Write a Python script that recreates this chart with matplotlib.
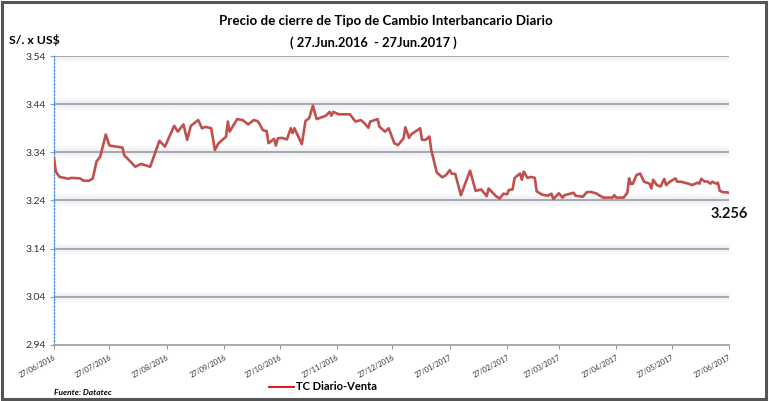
import pandas as pd
import matplotlib.pyplot as plt
from matplotlib.lines import Line2D
from matplotlib.patches import Rectangle

# daily closing rate (days after 27 Jun 2016, S/. per US$)
start_date = "2016-06-27"
day_offsets = [0, 1, 3, 8, 9, 14, 16, 19, 21, 23, 25, 28, 30, 37, 38, 44, 47, 52, 57, 60,
               65, 67, 70, 72, 74, 78, 80, 82, 85, 87, 89, 92, 93, 94, 95, 99, 102, 105, 108, 110,
               111, 113, 115, 116, 119, 120, 121, 123, 126, 128, 129, 130, 134, 136, 138, 140, 142, 147, 149, 150,
               151, 154, 160, 163, 166, 168, 170, 171, 175, 176, 179, 181, 184, 186, 189, 190, 192, 193, 198, 199,
               201, 203, 204, 207, 210, 212, 214, 215, 217, 220, 225, 228, 231, 234, 235, 239, 241, 243, 245, 246,
               248, 249, 250, 252, 253, 254, 256, 258, 260, 261, 264, 267, 269, 270, 273, 275, 276, 281, 282, 286,
               288, 290, 293, 297, 302, 303, 304, 308, 310, 311, 312, 313, 315, 317, 319, 322, 323, 324, 326, 328,
               330, 331, 333, 336, 337, 339, 343, 345, 348, 349, 350, 352, 353, 355, 356, 358, 359, 360, 362, 364,
               365]
rates = [3.328, 3.300, 3.289, 3.285, 3.287, 3.286, 3.281, 3.281, 3.286, 3.321, 3.331, 3.377, 3.354, 3.350, 3.334, 3.310, 3.316, 3.310, 3.364, 3.352,
         3.395, 3.383, 3.398, 3.366, 3.395, 3.407, 3.390, 3.393, 3.390, 3.345, 3.359, 3.369, 3.372, 3.404, 3.383, 3.409, 3.407, 3.398, 3.407, 3.405,
         3.400, 3.386, 3.384, 3.359, 3.368, 3.354, 3.369, 3.370, 3.367, 3.390, 3.380, 3.390, 3.357, 3.405, 3.411, 3.437, 3.409, 3.416, 3.424, 3.416,
         3.424, 3.419, 3.419, 3.404, 3.407, 3.400, 3.391, 3.404, 3.409, 3.393, 3.383, 3.390, 3.359, 3.355, 3.369, 3.392, 3.370, 3.377, 3.390, 3.366,
         3.366, 3.373, 3.345, 3.298, 3.288, 3.293, 3.303, 3.296, 3.295, 3.251, 3.302, 3.260, 3.263, 3.249, 3.265, 3.249, 3.244, 3.254, 3.253, 3.262,
         3.263, 3.286, 3.290, 3.296, 3.283, 3.300, 3.287, 3.289, 3.287, 3.259, 3.252, 3.250, 3.254, 3.243, 3.255, 3.246, 3.251, 3.256, 3.250, 3.248,
         3.257, 3.258, 3.255, 3.246, 3.246, 3.251, 3.246, 3.246, 3.256, 3.286, 3.274, 3.275, 3.293, 3.296, 3.279, 3.275, 3.265, 3.283, 3.272, 3.269,
         3.285, 3.272, 3.279, 3.286, 3.279, 3.279, 3.275, 3.272, 3.277, 3.275, 3.285, 3.279, 3.280, 3.275, 3.279, 3.275, 3.277, 3.260, 3.257, 3.257,
         3.256]
y_ticks = [2.94, 3.04, 3.14, 3.24, 3.34, 3.44, 3.54]
month_ticks = ["2016-06-27", "2016-07-27", "2016-08-27", "2016-09-27", "2016-10-27", "2016-11-27",
               "2016-12-27", "2017-01-27", "2017-02-27", "2017-03-27", "2017-04-27", "2017-05-27",
               "2017-06-27"]
last_label = "3.256"

plt.rcParams['font.family'] = ['Lato', 'DejaVu Sans']

dates = pd.Timestamp(start_date) + pd.to_timedelta(day_offsets, unit="D")
tick_dates = pd.to_datetime(month_ticks)

fig = plt.figure(figsize=(7.69, 4.01), dpi=100)
ax = fig.add_axes([0.0702, 0.1397, 0.8778, 0.7206])

# grid lines with a soft glow like the original
for yv in y_ticks[1:]:
    ax.axhline(yv, color="#f6f7fb", lw=8, zorder=1)
    ax.axhline(yv, color="#eef0f6", lw=4, zorder=1)
    ax.axhline(yv, color="#a3a3a3", lw=1.3, zorder=2)

ax.plot(dates, rates, color="#c0504d", lw=1.9, zorder=3)

ax.set_ylim(2.94, 3.54)
ax.set_xlim(tick_dates[0], tick_dates[-1])
ax.set_yticks(y_ticks)
ax.set_yticklabels([f"{v:.2f}" for v in y_ticks], fontsize=7.5, color="#333333")
ax.set_xticks(tick_dates)
ax.set_xticklabels([d.strftime("%d/%m/%Y") for d in tick_dates], fontsize=5.2,
                   rotation=28, ha="right", rotation_mode="anchor", color="#333333")
ax.tick_params(axis="x", length=3, color="#999999", pad=3)
ax.tick_params(axis="y", length=3, color="#6fa8dc", pad=3)

for s in ["top", "right"]:
    ax.spines[s].set_visible(False)
ax.spines["bottom"].set_color("#a3a3a3")
ax.spines["bottom"].set_linewidth(1.3)
ax.spines["left"].set_color("#4a90e2")
ax.spines["left"].set_linestyle((0, (1, 1.5)))
ax.spines["left"].set_linewidth(1)

# label for the last value
ax.text(tick_dates[-1], 3.212, last_label, fontsize=10.5, fontweight="bold",
        ha="center", va="center", color="#111111")

fig.text(0.502, 0.948, "Precio de cierre de Tipo de Cambio Interbancario Diario",
         ha="center", va="center", fontsize=9.6, fontweight="bold")
fig.text(0.485, 0.893, "( 27.Jun.2016  - 27Jun.2017 )",
         ha="center", va="center", fontsize=9.3, fontweight="bold")
fig.text(0.012, 0.9, "S/. x US$", ha="left", va="center", fontsize=8.8, fontweight="bold")
fig.text(0.07, 0.02, "Fuente: Datatec", ha="left", va="center", fontsize=6,
         fontweight="bold", style="italic")

handle = Line2D([], [], color="#e00000", lw=1.3)
fig.legend([handle], ["TC Diario-Venta"], loc="center", bbox_to_anchor=(0.42, 0.035),
           frameon=False, handlelength=2.2, handletextpad=0.2,
           prop={"weight": "bold", "size": 8})

# dark frame around the whole picture
fig.patches.append(Rectangle((0.002, 0.004), 0.994, 0.992, transform=fig.transFigure,
                             fill=False, edgecolor="#555555", lw=2.2))

fig.savefig("out.png", dpi=100)
